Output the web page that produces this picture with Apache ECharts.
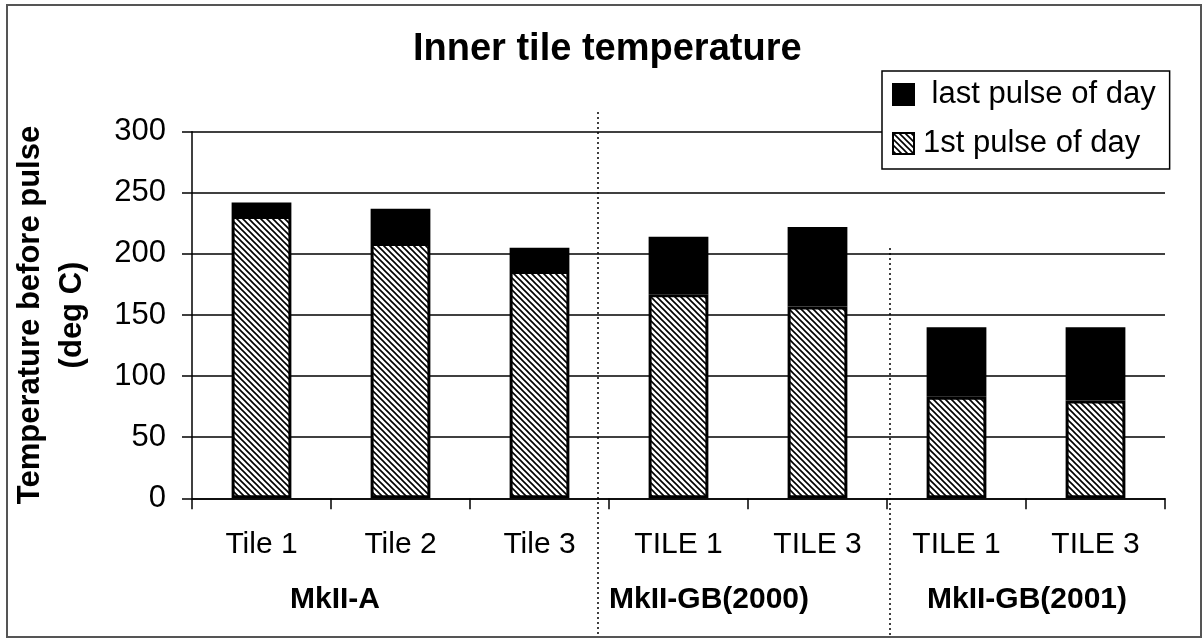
<!DOCTYPE html>
<html>
<head>
<meta charset="utf-8">
<script src="https://cdn.jsdelivr.net/npm/echarts@6/dist/echarts.min.js"></script>
<style>
html,body{margin:0;padding:0;background:#fff;}
#chart{width:1204px;height:639px;}
</style>
</head>
<body>
<div id="chart"></div>
<script>
var categories = ['Tile 1', 'Tile 2', 'Tile 3', 'TILE 1', 'TILE 3', 'TILE 1', 'TILE 3'];
var groups = ['MkII-A', 'MkII-GB(2000)', 'MkII-GB(2001)'];
var firstPulse = [231, 209, 186, 167, 157, 83, 80];
var lastPulseExtra = [11, 28, 19, 47, 65, 57, 60];
var yTicks = [0, 50, 100, 150, 200, 250, 300];
var seriesNames = [' last pulse of day', '1st pulse of day'];
var titleText = 'Inner tile temperature';
var yName = 'Temperature before pulse\n(deg C)';

var FONT = '"Liberation Sans", Arial, sans-serif';

// hatch pattern "\\\\"
var pc = document.createElement('canvas');
pc.width = 6; pc.height = 6;
var ctx = pc.getContext('2d');
ctx.fillStyle = '#fff';
ctx.fillRect(0, 0, 6, 6);
ctx.strokeStyle = '#000';
ctx.lineWidth = 1.6;
ctx.beginPath();
ctx.moveTo(-1, -1); ctx.lineTo(7, 7);
ctx.moveTo(-1, 5); ctx.lineTo(1, 7);
ctx.moveTo(5, -1); ctx.lineTo(7, 1);
ctx.stroke();

var chart = echarts.init(document.getElementById('chart'), null, {renderer: 'canvas'});

var option = {
  backgroundColor: '#fff',
  animation: false,
  title: {
    text: titleText,
    left: 408,
    top: 26,
    textStyle: {fontFamily: FONT, fontSize: 38, fontWeight: 'bold', color: '#000'}
  },
  legend: {
    data: seriesNames,
    orient: 'vertical',
    left: 882,
    top: 71,
    padding: [8, 14, 10, 10],
    itemWidth: 21,
    itemHeight: 21,
    itemGap: 18,
    icon: 'rect',
    borderColor: '#000',
    borderWidth: 1.5,
    backgroundColor: '#fff',
    textStyle: {fontFamily: FONT, fontSize: 31, color: '#000', lineHeight: 30, padding: [0, 0, 0, 4]},
    z: 10
  },
  grid: {left: 192, right: 39, top: 131.7, bottom: 140.7},
  xAxis: {
    type: 'category',
    data: categories,
    axisLine: {lineStyle: {color: '#000', width: 1.5}},
    axisTick: {show: true, length: 11, lineStyle: {color: '#000', width: 1.5}},
    axisLabel: {fontFamily: FONT, fontSize: 30, color: '#000', margin: 31, interval: 0}
  },
  yAxis: {
    type: 'value',
    min: yTicks[0],
    max: yTicks[yTicks.length - 1],
    interval: yTicks[1] - yTicks[0],
    name: yName,
    nameLocation: 'middle',
    nameRotate: 90,
    nameGap: 99,
    nameTextStyle: {fontFamily: FONT, fontSize: 31, fontWeight: 'bold', color: '#000', lineHeight: 42},
    axisLine: {show: true, lineStyle: {color: '#000', width: 1.5}},
    axisTick: {show: true, length: 10, lineStyle: {color: '#000', width: 1.5}},
    axisLabel: {fontFamily: FONT, fontSize: 31, color: '#000', margin: 26},
    splitLine: {show: true, lineStyle: {color: '#000', width: 1.5}}
  },
  series: [
    {
      name: seriesNames[1],
      type: 'bar',
      stack: 'temp',
      barWidth: '43%',
      data: firstPulse,
      itemStyle: {color: {image: pc, repeat: 'repeat'}, borderColor: '#000', borderWidth: 3},
      z: 3
    },
    {
      name: seriesNames[0],
      type: 'bar',
      stack: 'temp',
      barWidth: '43%',
      data: lastPulseExtra,
      itemStyle: {color: '#000', borderColor: '#000', borderWidth: 3},
      z: 3
    }
  ],
  graphic: [
    {type: 'rect', shape: {x: 7, y: 5, width: 1194, height: 632}, style: {fill: null, stroke: '#555', lineWidth: 2}, z: 100},
    {type: 'line', shape: {x1: 598, y1: 112, x2: 598, y2: 636}, style: {stroke: '#000', lineWidth: 1.5, lineDash: [2, 3]}, z: 50},
    {type: 'line', shape: {x1: 890, y1: 248, x2: 890, y2: 636}, style: {stroke: '#000', lineWidth: 1.5, lineDash: [2, 3]}, z: 50},
    {type: 'text', x: 335, y: 600, style: {text: groups[0], font: 'bold 30px ' + FONT, fill: '#000', textAlign: 'center', textVerticalAlign: 'middle'}},
    {type: 'text', x: 709, y: 600, style: {text: groups[1], font: 'bold 30px ' + FONT, fill: '#000', textAlign: 'center', textVerticalAlign: 'middle'}},
    {type: 'text', x: 1027, y: 600, style: {text: groups[2], font: 'bold 30px ' + FONT, fill: '#000', textAlign: 'center', textVerticalAlign: 'middle'}}
  ]
};
chart.setOption(option);
</script>
</body>
</html>
